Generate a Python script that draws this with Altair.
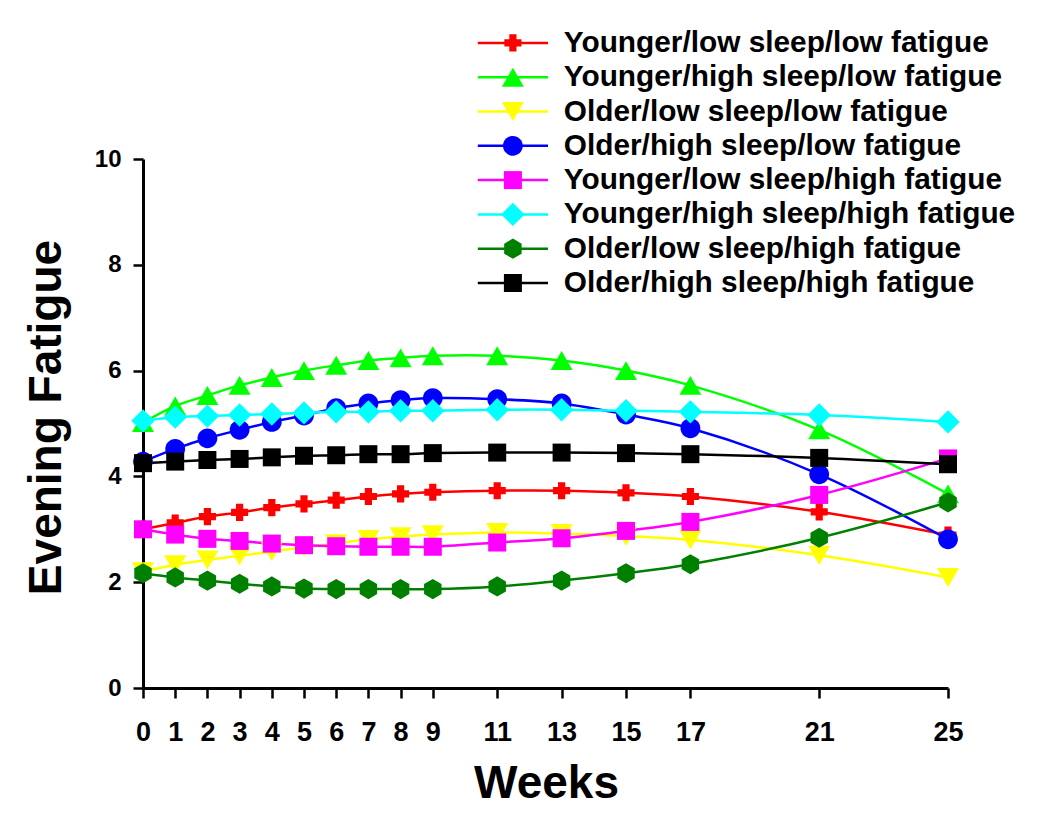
import altair as alt
import pandas as pd

weeks = [0, 1, 2, 3, 4, 5, 6, 7, 8, 9, 11, 13, 15, 17, 21, 25]

series_names = [
    "Younger/low sleep/low fatigue",
    "Younger/high sleep/low fatigue",
    "Older/low sleep/low fatigue",
    "Older/high sleep/low fatigue",
    "Younger/low sleep/high fatigue",
    "Younger/high sleep/high fatigue",
    "Older/low sleep/high fatigue",
    "Older/high sleep/high fatigue",
]
colors = ["#FF0000", "#00FF00", "#FFFF00", "#0000FF", "#FF00FF", "#00FFFF", "#008000", "#000000"]

cross_path = "M-0.95,-0.4H-0.4V-0.95H0.4V-0.4H0.95V0.4H0.4V0.95H-0.4V0.4H-0.95Z"
tri_up_path = "M0,-1.05L1.22,1.05L-1.22,1.05Z"
tri_down_path = "M0,1.05L1.22,-1.05L-1.22,-1.05Z"
circle_path = "M1.1,0A1.1,1.1,0,1,1,-1.1,0A1.1,1.1,0,1,1,1.1,0Z"
square_path = "M-1,-1H1V1H-1Z"
diamond_path = "M-1.3,0L0,-1.3L1.3,0L0,1.3Z"
hexagon_path = "M0,-1.12L0.97,-0.56L0.97,0.56L0,1.12L-0.97,0.56L-0.97,-0.56Z"
shapes = [cross_path, tri_up_path, tri_down_path, circle_path, square_path,
          diamond_path, hexagon_path, square_path]

young_low_low = [3.00, 3.12, 3.24, 3.32, 3.41, 3.48, 3.55, 3.62, 3.67, 3.70, 3.73, 3.73, 3.69, 3.62, 3.33, 2.89]
young_high_low = [5.02, 5.33, 5.53, 5.72, 5.87, 6.00, 6.10, 6.19, 6.24, 6.28, 6.28, 6.19, 6.00, 5.72, 4.88, 3.67]
old_low_low = [2.20, 2.33, 2.42, 2.50, 2.58, 2.66, 2.73, 2.81, 2.86, 2.90, 2.94, 2.92, 2.87, 2.80, 2.51, 2.09]
old_high_low = [4.28, 4.52, 4.72, 4.88, 5.03, 5.15, 5.29, 5.38, 5.44, 5.48, 5.46, 5.38, 5.17, 4.91, 4.04, 2.81]
young_low_high = [3.00, 2.90, 2.82, 2.78, 2.73, 2.70, 2.68, 2.67, 2.67, 2.67, 2.75, 2.83, 2.97, 3.14, 3.65, 4.34]
young_high_high = [5.05, 5.12, 5.14, 5.16, 5.18, 5.20, 5.22, 5.22, 5.24, 5.24, 5.26, 5.26, 5.24, 5.22, 5.16, 5.03]
old_low_high = [2.17, 2.09, 2.03, 1.97, 1.92, 1.88, 1.87, 1.87, 1.87, 1.87, 1.92, 2.03, 2.17, 2.34, 2.84, 3.51]
old_high_high = [4.25, 4.28, 4.31, 4.33, 4.36, 4.39, 4.40, 4.42, 4.42, 4.44, 4.45, 4.45, 4.44, 4.42, 4.35, 4.23]

all_values = [young_low_low, young_high_low, old_low_low, old_high_low,
              young_low_high, young_high_high, old_low_high, old_high_high]

rows = []
for i, (name, vals) in enumerate(zip(series_names, all_values)):
    for w, v in zip(weeks, vals):
        rows.append({"Weeks": w, "Fatigue": v, "series": name, "order": i})
df = pd.DataFrame(rows)

FONT = "Liberation Sans"

x = alt.X(
    "Weeks:Q",
    scale=alt.Scale(domain=[0, 25], nice=False, zero=False),
    axis=alt.Axis(
        values=weeks, title="Weeks", labelFontSize=27, labelPadding=21,
        labelFlush=False, labelOverlap=False,
        titleFontSize=46, titleX=403, titleY=109, titleBaseline="alphabetic",
        titleAlign="center",
    ),
)
y = alt.Y(
    "Fatigue:Q",
    scale=alt.Scale(domain=[0, 10], nice=False),
    axis=alt.Axis(
        values=[0, 2, 4, 6, 8, 10], title="Evening Fatigue", labelFontSize=24,
        labelPadding=12, labelFlush=False, labelOverlap=False,
        titleFontSize=46, titleAngle=-90, titleX=-83, titleY=258,
        titleBaseline="alphabetic", titleAlign="center",
    ),
)

leg_common = dict(
    orient="none", legendX=355, legendY=-131, title=None, direction="vertical",
    symbolSize=324, labelFont=FONT, labelFontSize=29.8, labelFontWeight="bold",
    labelColor="black", labelLimit=800, labelOffset=36, rowPadding=3.3, padding=0,
)

leg_lines = alt.Legend(symbolType="M-3.9,0H3.9", symbolStrokeWidth=2.5, **leg_common)
leg_marks = alt.Legend(symbolStrokeWidth=0, labelOpacity=0, **leg_common)

lines = alt.Chart(df).mark_line(strokeWidth=2.5, interpolate="catmull-rom").encode(
    x=x,
    y=y,
    color=alt.Color("series:N", sort=series_names, scale=alt.Scale(range=colors), legend=leg_lines),
)

points = alt.Chart(df).mark_point(filled=True, size=324, opacity=1).encode(
    x=x,
    y=y,
    fill=alt.Fill("series:N", scale=alt.Scale(domain=series_names, range=colors), legend=leg_marks),
    shape=alt.Shape("series:N", scale=alt.Scale(domain=series_names, range=shapes), legend=leg_marks),
    order=alt.Order("order:Q"),
)

chart = alt.layer(lines, points).properties(
    width=805,
    height=529,
    autosize=alt.AutoSizeParams(type="none"),
    padding={"left": 135, "top": 151, "right": 90, "bottom": 120},
).configure(
    background="white",
    font=FONT,
).configure_view(
    stroke=None,
).configure_axis(
    grid=False,
    domainColor="black",
    domainWidth=3,
    tickColor="black",
    tickWidth=2.5,
    tickSize=10,
    labelColor="black",
    labelFont=FONT,
    labelFontWeight="bold",
    titleColor="black",
    titleFont=FONT,
    titleFontWeight="bold",
)

chart.save("out.html", embed_options={"renderer": "svg", "actions": False})
